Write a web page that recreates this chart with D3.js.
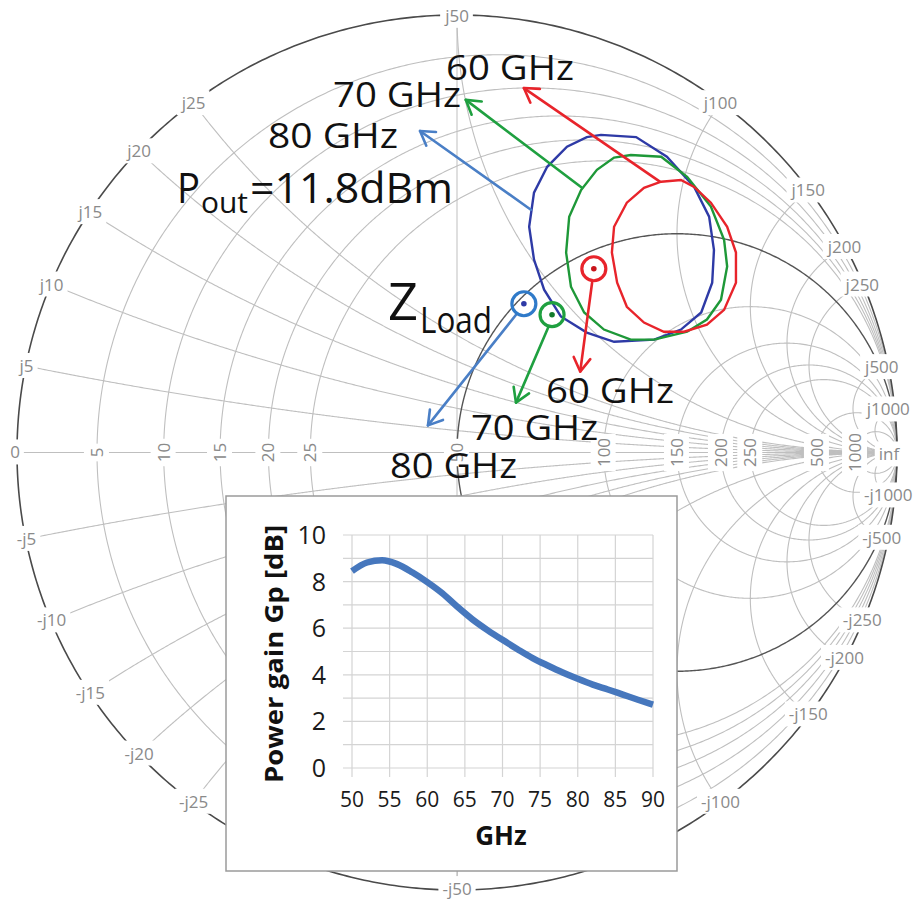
<!DOCTYPE html>
<html>
<head>
<meta charset="utf-8">
<script src="https://cdn.jsdelivr.net/npm/d3@7"></script>
<style>
  html, body { margin: 0; padding: 0; background: #fff; }
  svg { display: block; font-family: "Open Sans", "Noto Sans", sans-serif; }
</style>
</head>
<body>
<svg id="chart" width="914" height="909"></svg>
<script>
// ---------------- data ----------------
const Z0 = 50;
const resistanceGrid = [5, 10, 15, 20, 25, 50, 100, 150, 200, 250, 500, 1000];
const reactanceGrid  = [5, 10, 15, 20, 25, 50, 100, 150, 200, 250, 500, 1000];

// Pout = 11.8 dBm load-pull contours, reflection coefficient [re, im]
const contour80 = [[0.327,0.726],[0.407,0.721],[0.477,0.676],[0.539,0.607],[0.573,0.539],[0.584,0.463],
  [0.580,0.388],[0.555,0.320],[0.509,0.281],[0.448,0.258],[0.357,0.253],[0.295,0.274],[0.236,0.311],
  [0.198,0.372],[0.175,0.441],[0.164,0.516],[0.175,0.594],[0.205,0.653],[0.250,0.699],[0.295,0.721]];
const contour70 = [[0.357,0.674],[0.395,0.680],[0.464,0.676],[0.523,0.630],[0.577,0.562],[0.607,0.486],
  [0.614,0.425],[0.600,0.349],[0.568,0.304],[0.523,0.276],[0.448,0.258],[0.395,0.258],[0.334,0.281],
  [0.289,0.320],[0.259,0.379],[0.248,0.457],[0.255,0.539],[0.282,0.600],[0.318,0.646]];
const contour60 = [[0.464,0.619],[0.509,0.623],[0.539,0.607],[0.577,0.571],[0.614,0.516],[0.634,0.457],
  [0.634,0.388],[0.607,0.326],[0.568,0.292],[0.516,0.276],[0.470,0.276],[0.425,0.297],[0.386,0.333],
  [0.364,0.388],[0.352,0.457],[0.357,0.516],[0.386,0.571],[0.425,0.605]];

// chosen load impedance per frequency, reflection coefficient [re, im]
const zLoad80 = [0.152, 0.340];
const zLoad70 = [0.216, 0.315];
const zLoad60 = [0.311, 0.420];

// annotation arrows [from, to] in reflection-coefficient coordinates
const arrowPout80 = [[0.168, 0.555], [-0.084, 0.735]];
const arrowPout70 = [[0.284, 0.605], [0.020, 0.806]];
const arrowPout60 = [[0.461, 0.619], [0.152, 0.833]];
const arrowZ80 = [[0.136, 0.317], [-0.066, 0.062]];
const arrowZ70 = [[0.207, 0.285], [0.134, 0.114]];
const arrowZ60 = [[0.307, 0.388], [0.280, 0.185]];

// power gain vs frequency (inset)
const gainFreq = [50, 52, 54, 56, 58, 60, 62, 64, 66, 68, 70, 72, 74, 76, 78, 80, 82, 84, 86, 88, 90];
const gainDb   = [8.45, 8.82, 8.92, 8.75, 8.40, 7.98, 7.50, 6.92, 6.38, 5.92, 5.50, 5.10, 4.72, 4.40,
                  4.10, 3.83, 3.58, 3.37, 3.15, 2.93, 2.72];
const gainXTicks = [50, 55, 60, 65, 70, 75, 80, 85, 90];
const gainYTicks = [0, 2, 4, 6, 8, 10];
const gainYGrid  = [0, 1, 2, 3, 4, 5, 6, 7, 8, 9, 10];

// ---------------- Smith chart ----------------
const svg = d3.select("#chart");
const sx = d3.scaleLinear().domain([-1, 1]).range([17, 897]);
const sy = d3.scaleLinear().domain([-1, 1]).range([890, 15]);
const line = d3.line().x(p => sx(p[0])).y(p => sy(p[1]));

// normalized impedance -> reflection coefficient
function gamma(r, x) {
  const d = (r + 1) * (r + 1) + x * x;
  return [(r * r - 1 + x * x) / d, (2 * x) / d];
}

const gGrid = svg.append("g");
const gridColor = "#bfbfbf";

// constant-resistance circles
function resistancePath(r) {
  const pts = d3.range(-0.4995, 0.49951, 0.001).map(t => gamma(r, Math.tan(t * Math.PI)));
  return line(pts);
}
// constant-reactance arcs
function reactancePath(x) {
  const pts = d3.range(0, 0.4996, 0.0008).map(t => gamma(Math.tan(t * Math.PI), x));
  pts.push([1, 0]);
  return line(pts);
}

// axes through the centre
gGrid.append("path").attr("d", line([[-1, 0], [1, 0]]))
  .attr("stroke", gridColor).attr("fill", "none");
gGrid.append("path").attr("d", line([[0, 1], [0, -1]]))
  .attr("stroke", gridColor).attr("fill", "none");

reactanceGrid.forEach(v => {
  [1, -1].forEach(s => {
    gGrid.append("path").attr("d", reactancePath(s * v / Z0))
      .attr("fill", "none").attr("stroke", gridColor).attr("stroke-width", 1.1);
  });
});
resistanceGrid.forEach(v => {
  const unit = v === Z0;
  gGrid.append("path").attr("d", resistancePath(v / Z0))
    .attr("fill", "none")
    .attr("stroke", unit ? "#555" : gridColor)
    .attr("stroke-width", unit ? 1.4 : 1.1);
});

// outer rim
gGrid.append("path")
  .attr("d", line(d3.range(0, 2 * Math.PI + 0.01, 0.01).map(t => [Math.cos(t), Math.sin(t)])))
  .attr("fill", "none").attr("stroke", "#4a4a4a").attr("stroke-width", 1.6);

// grid labels with white knock-out boxes
const gLab = svg.append("g").attr("font-size", 17).attr("fill", "#8a8a8a");
function gridLabel(text, px, py, rotate) {
  const g = gLab.append("g").attr("transform", `translate(${px},${py})` + (rotate ? " rotate(-90)" : ""));
  const rect = g.append("rect").attr("fill", "#fff");
  const t = g.append("text").attr("text-anchor", "middle").attr("dy", "0.35em").text(text);
  const b = t.node().getBBox();
  rect.attr("x", b.x - 4).attr("y", b.y - 1).attr("width", b.width + 8).attr("height", b.height + 2);
}

// resistance labels along the real axis
gridLabel("0", sx(-1) - 2, sy(0), false);
resistanceGrid.forEach(v => {
  const g = gamma(v / Z0, 0);
  gridLabel(String(v), sx(g[0]), sy(0), true);
});
gridLabel("inf", sx(1) - 8, sy(0) + 2, false);

// reactance labels on the rim
reactanceGrid.forEach(v => {
  [1, -1].forEach(s => {
    const g = gamma(0, s * v / Z0);
    const k = v >= 500 ? 0.985 : 0.998;
    gridLabel((s < 0 ? "-j" : "j") + v, sx(g[0] * k), sy(g[1] * k), false);
  });
});

// ---------------- load-pull contours ----------------
const closed = d3.line().x(p => sx(p[0])).y(p => sy(p[1])).curve(d3.curveLinearClosed);
const gC = svg.append("g").attr("fill", "none").attr("stroke-width", 2.4);
gC.append("path").attr("d", closed(contour80)).attr("stroke", "#2e3aa6");
gC.append("path").attr("d", closed(contour70)).attr("stroke", "#1e9838");
gC.append("path").attr("d", closed(contour60)).attr("stroke", "#e8242b");

// arrows
function arrow(seg, color) {
  const [a, b] = seg;
  const x1 = sx(a[0]), y1 = sy(a[1]), x2 = sx(b[0]), y2 = sy(b[1]);
  const ang = Math.atan2(y2 - y1, x2 - x1);
  const L = 16, spread = 0.55;
  const g = svg.append("g").attr("stroke", color).attr("stroke-width", 2.6)
    .attr("fill", "none").attr("stroke-linecap", "round").attr("stroke-linejoin", "round");
  g.append("line").attr("x1", x1).attr("y1", y1).attr("x2", x2).attr("y2", y2);
  g.append("path").attr("d",
    `M${x2 - L * Math.cos(ang - spread)},${y2 - L * Math.sin(ang - spread)}` +
    `L${x2},${y2}` +
    `L${x2 - L * Math.cos(ang + spread)},${y2 - L * Math.sin(ang + spread)}`);
}
arrow(arrowPout80, "#4a7fc6");
arrow(arrowPout70, "#1fa040");
arrow(arrowPout60, "#e8242b");
arrow(arrowZ80, "#4a7fc6");
arrow(arrowZ70, "#1fa040");
arrow(arrowZ60, "#e8242b");

// load markers
function marker(p, ring, dot) {
  svg.append("circle").attr("cx", sx(p[0])).attr("cy", sy(p[1])).attr("r", 12)
    .attr("fill", "none").attr("stroke", ring).attr("stroke-width", 3.2);
  svg.append("circle").attr("cx", sx(p[0])).attr("cy", sy(p[1])).attr("r", 2.8).attr("fill", dot);
}
marker(zLoad80, "#2f7ac9", "#2e3aa6");
marker(zLoad70, "#1fa040", "#127a2c");
marker(zLoad60, "#e8242b", "#c8141a");

// annotation text
const gT = svg.append("g").attr("fill", "#111");
function label(text, x, y, size, len) {
  const t = gT.append("text").attr("x", x).attr("y", y).attr("font-size", size).text(text);
  if (len) t.attr("textLength", len).attr("lengthAdjust", "spacingAndGlyphs");
  return t;
}
label("60 GHz", 446, 80, 35, 128);
label("70 GHz", 333, 107, 35, 128);
label("80 GHz", 268, 148, 35, 130);
label("P", 177, 203, 42, 23);
label("out", 201, 213, 30, 47);
label("=11.8dBm", 250, 203, 42, 203);
label("Z", 388, 320, 52, 30);
label("Load", 420, 333, 36, 72);
label("60 GHz", 546, 403, 35, 128);
label("70 GHz", 471, 440, 35, 127);
label("80 GHz", 390, 478, 35, 127);

// ---------------- inset: power gain ----------------
const inset = svg.append("g");
inset.append("rect").attr("x", 226).attr("y", 496).attr("width", 451).attr("height", 375)
  .attr("fill", "#fff").attr("stroke", "#9a9a9a").attr("stroke-width", 1.5);

const gx = d3.scaleLinear().domain([50, 90]).range([352, 653]);
const gy = d3.scaleLinear().domain([0, 10]).range([768, 535]);

const grid = inset.append("g").attr("stroke", "#d4d4d4").attr("stroke-width", 1.2);
gainYGrid.forEach(v => {
  grid.append("line").attr("x1", gx(50) - 9).attr("x2", gx(90)).attr("y1", gy(v)).attr("y2", gy(v));
});
gainXTicks.forEach(v => {
  grid.append("line").attr("x1", gx(v)).attr("x2", gx(v)).attr("y1", gy(10)).attr("y2", gy(0) + 9);
});

const tickG = inset.append("g").attr("fill", "#1a1a1a");
gainYTicks.forEach(v => {
  tickG.append("text").attr("x", 326).attr("y", gy(v)).attr("dy", "0.36em")
    .attr("text-anchor", "end").attr("font-size", 25).text(v);
});
gainXTicks.forEach(v => {
  tickG.append("text").attr("x", gx(v)).attr("y", 807)
    .attr("text-anchor", "middle").attr("font-size", 21).text(v);
});

inset.append("text")
  .attr("transform", "translate(283,654) rotate(-90)")
  .attr("text-anchor", "middle").attr("font-size", 25).attr("font-weight", "bold")
  .attr("fill", "#111").attr("textLength", 258).attr("lengthAdjust", "spacingAndGlyphs")
  .text("Power gain Gp [dB]");
inset.append("text").attr("x", 501).attr("y", 845).attr("text-anchor", "middle")
  .attr("font-size", 26).attr("font-weight", "bold").attr("fill", "#111").text("GHz");

const gainLine = d3.line().x((d, i) => gx(gainFreq[i])).y(d => gy(d)).curve(d3.curveMonotoneX);
inset.append("path").attr("d", gainLine(gainDb))
  .attr("fill", "none").attr("stroke", "#4677bd").attr("stroke-width", 6.5)
  .attr("stroke-linecap", "butt");
</script>
</body>
</html>
